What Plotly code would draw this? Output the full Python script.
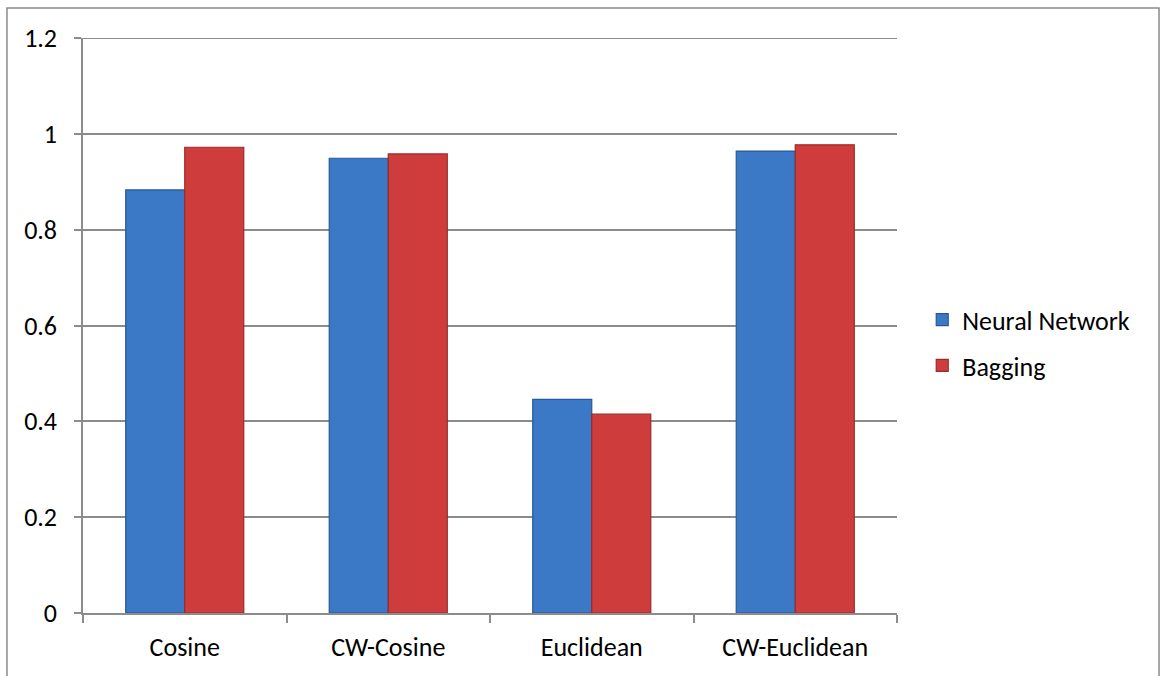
import plotly.graph_objects as go

categories = ["Cosine", "CW-Cosine", "Euclidean", "CW-Euclidean"]
neural_network = [0.883, 0.949, 0.446, 0.964]
bagging = [0.972, 0.958, 0.415, 0.977]
y_ticks = [0, 0.2, 0.4, 0.6, 0.8, 1, 1.2]
y_tick_labels = ["0", "0.2", "0.4", "0.6", "0.8", "1", "1.2"]

FONT = "Carlito, Lato, Open Sans, sans-serif"
GRID = "#8c8c8c"
FS = 26

fig = go.Figure()
fig.add_trace(go.Bar(
    name="Neural Network", x=categories, y=neural_network, legendgroup="nn",
    marker=dict(color="#3b78c6", line=dict(color="#2a5896", width=1.2)),
))
fig.add_trace(go.Bar(
    name="Bagging", x=categories, y=bagging, legendgroup="bg",
    marker=dict(color="#cf3c3c", line=dict(color="#9c2a2a", width=1.2)),
))

fig.update_layout(
    width=1160, height=676,
    margin=dict(l=83, r=263, t=38, b=63),
    paper_bgcolor="white", plot_bgcolor="white",
    barmode="group", bargap=0.42, bargroupgap=0,
    font=dict(family=FONT, size=FS, color="black"),
    showlegend=True,
    legend=dict(x=1.031, y=0.47, xanchor="left", yanchor="middle",
                font=dict(family=FONT, size=FS, color="black"),
                traceorder="grouped", tracegroupgap=9, itemwidth=30,
                bgcolor="rgba(0,0,0,0)"),
    xaxis=dict(
        type="category", showline=True, linecolor=GRID, linewidth=1.5,
        ticks="outside", tickson="boundaries", ticklen=8, tickcolor=GRID,
        tickwidth=1.5, showgrid=False, tickfont=dict(size=FS),
        ticklabelstandoff=10,
    ),
    yaxis=dict(
        range=[0, 1.2], tickvals=y_ticks, ticktext=y_tick_labels,
        showline=True, linecolor=GRID, linewidth=1.5,
        ticks="outside", ticklen=7, tickcolor=GRID, tickwidth=1.5,
        showgrid=True, gridcolor=GRID, gridwidth=1.5,
        zeroline=False, tickfont=dict(size=FS), ticklabelstandoff=12,
    ),
)

# top gridline at the highest tick (Plotly skips grid lines at the plot edge)
fig.add_shape(type="line", xref="paper", yref="y", x0=0, x1=1,
              y0=y_ticks[-1], y1=y_ticks[-1], line=dict(color=GRID, width=2))

# outer chart frame
fig.add_shape(type="path", xref="paper", yref="paper",
              path="M -0.0934 -0.12 L -0.0934 1.052 L 1.3219 1.052 L 1.3219 -0.12",
              line=dict(color="#8a8a8a", width=1.5))

fig.write_html("out.html")
